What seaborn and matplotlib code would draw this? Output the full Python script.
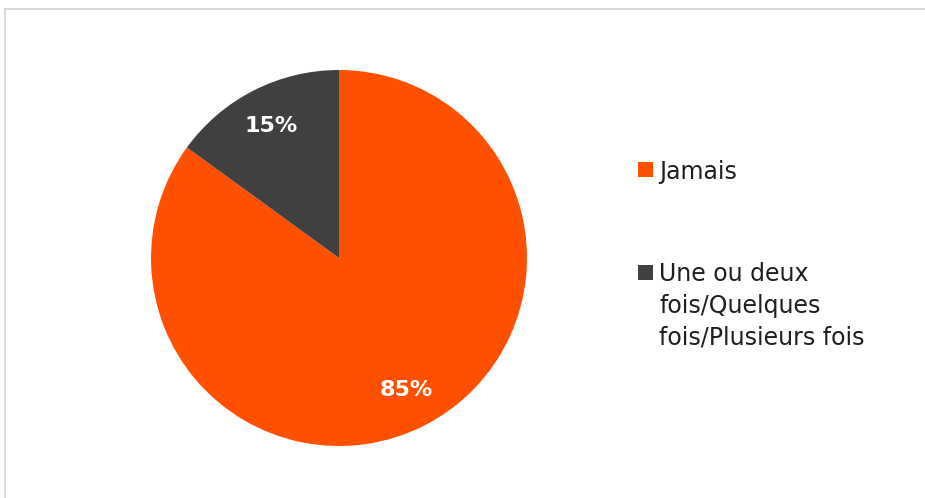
import matplotlib
matplotlib.use("Agg")
import matplotlib.pyplot as plt
import seaborn as sns
from matplotlib.lines import Line2D
from matplotlib.patches import Rectangle

sns.set_theme(style="white")
plt.rcParams['font.family'] = ['DejaVu Sans']

categories = ["Jamais", "Une ou deux\nfois/Quelques\nfois/Plusieurs fois"]
values = [85, 15]
colors = ["#FF5000", "#404040"]

W, H = 925, 498
fig = plt.figure(figsize=(W / 100, H / 100), dpi=100)
fig.patch.set_facecolor("white")

# frame lines
fig.add_artist(Line2D([4.5 / W, 4.5 / W], [0, 1 - 9.5 / H], transform=fig.transFigure,
                      color="#d4d4d4", lw=1.2))
fig.add_artist(Line2D([4.5 / W, 1], [1 - 9.5 / H, 1 - 9.5 / H], transform=fig.transFigure,
                      color="#d4d4d4", lw=1.2))

cx, cy, r = 339, 258, 188
ax = fig.add_axes([(cx - r) / W, (H - cy - r) / H, 2 * r / W, 2 * r / H])
wedges, texts, autotexts = ax.pie(
    values, colors=colors, startangle=90, counterclock=False,
    autopct=lambda p: f"{p:.0f}%", pctdistance=0.79,
    wedgeprops=dict(linewidth=0),
    textprops=dict(color="white", fontsize=16, fontweight="bold"))
ax.set_aspect("equal")
ax.set_xlim(-1, 1)
ax.set_ylim(-1, 1)
ax.axis("off")

# legend (manual layout)
leg_y = [170, 272]
for lab, col, y in zip(categories, colors, leg_y):
    fig.patches.append(Rectangle((638 / W, 1 - (y + 7.5) / H), 15 / W, 15 / H,
                                 transform=fig.transFigure, facecolor=col,
                                 edgecolor="none"))
    fig.text(659 / W, 1 - (y - 10) / H, lab, ha="left", va="top", fontsize=17,
             color="#1e1e1e", linespacing=1.4)

fig.savefig("out.png", dpi=100, facecolor="white")
